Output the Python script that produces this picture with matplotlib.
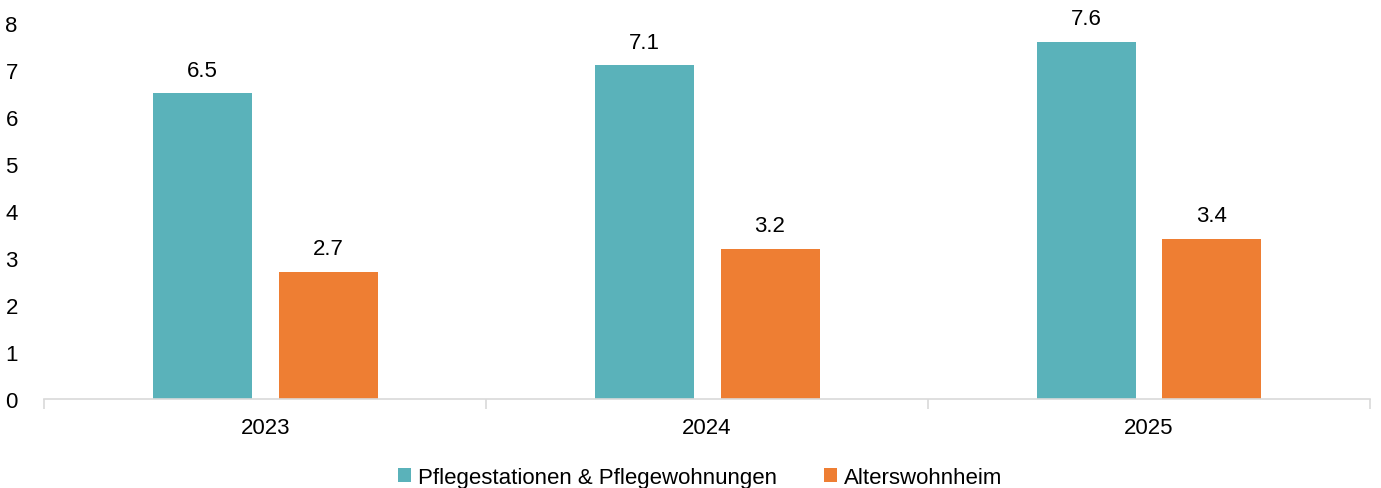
import matplotlib.pyplot as plt
import numpy as np

plt.rcParams['font.family'] = ['Liberation Sans', 'DejaVu Sans']

years = ["2023", "2024", "2025"]
pflege = [6.5, 7.1, 7.6]
alters = [2.7, 3.2, 3.4]
labels = ["Pflegestationen & Pflegewohnungen", "Alterswohnheim"]
colors = ["#5AB2BA", "#EE7E33"]

fs = 16
fig = plt.figure(figsize=(13.81, 4.89), dpi=100)
ax = fig.add_axes([0.032, 0.182, 0.96, 0.769])

x = np.arange(len(years))
w = 0.224
off = 0.1425
b1 = ax.bar(x - off, pflege, w, color=colors[0], label=labels[0])
b2 = ax.bar(x + off, alters, w, color=colors[1], label=labels[1])

for bars, vals in ((b1, pflege), (b2, alters)):
    for r, v in zip(bars, vals):
        ax.text(r.get_x() + r.get_width() / 2, v + 0.27, f"{v:.1f}",
                ha="center", va="bottom", fontsize=fs)

ax.set_xlim(-0.5, 2.5)
ax.set_ylim(0, 8)
ax.set_yticks(range(9))
ax.set_xticks(x)
ax.set_xticklabels(years)
ax.set_xticks([-0.5, 0.5, 1.5, 2.5], minor=True)
ax.tick_params(axis="x", which="major", length=0, labelsize=fs, pad=13)
ax.tick_params(axis="x", which="minor", length=7, color="#D9D9D9", width=1.2)
ax.tick_params(axis="y", length=0, labelsize=fs, pad=19)
for s in ("top", "right", "left"):
    ax.spines[s].set_visible(False)
ax.spines["bottom"].set_color("#D9D9D9")
ax.spines["bottom"].set_linewidth(1.2)

fig.legend(loc="center", bbox_to_anchor=(0.507, 0.022), ncol=2, frameon=False,
           fontsize=fs, handlelength=0.6, handleheight=0.6, handletextpad=0.3,
           columnspacing=2.1)

fig.savefig("out.png", dpi=100)
